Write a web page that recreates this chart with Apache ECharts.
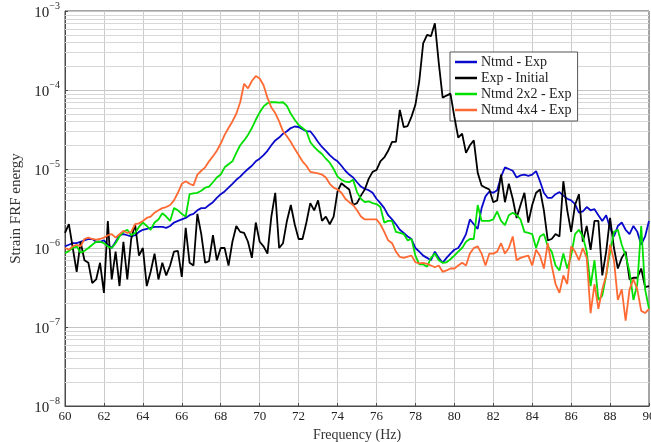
<!DOCTYPE html>
<html>
<head>
<meta charset="utf-8">
<script src="https://cdn.jsdelivr.net/npm/echarts/dist/echarts.min.js"></script>
<style>
  html, body { margin: 0; padding: 0; background: #ffffff; }
  #chart { width: 651px; height: 442px; }
</style>
</head>
<body>
<div id="chart"></div>
<script>
// Frequency samples (Hz)
const frequencies = [
  60.0, 60.2, 60.4, 60.6, 60.8, 61.0, 61.2, 61.4, 61.6, 61.8,
  62.0, 62.2, 62.4, 62.6, 62.8, 63.0, 63.2, 63.4, 63.6, 63.8,
  64.0, 64.2, 64.4, 64.6, 64.8, 65.0, 65.2, 65.4, 65.6, 65.8,
  66.0, 66.2, 66.4, 66.6, 66.8, 67.0, 67.2, 67.4, 67.6, 67.8,
  68.0, 68.2, 68.4, 68.6, 68.8, 69.0, 69.2, 69.4, 69.6, 69.8,
  70.0, 70.2, 70.4, 70.6, 70.8, 71.0, 71.2, 71.4, 71.6, 71.8,
  72.0, 72.2, 72.4, 72.6, 72.8, 73.0, 73.2, 73.4, 73.6, 73.8,
  74.0, 74.2, 74.4, 74.6, 74.8, 75.0, 75.2, 75.4, 75.6, 75.8,
  76.0, 76.2, 76.4, 76.6, 76.8, 77.0, 77.2, 77.4, 77.6, 77.8,
  78.0, 78.2, 78.4, 78.6, 78.8, 79.0, 79.2, 79.4, 79.6, 79.8,
  80.0, 80.2, 80.4, 80.6, 80.8, 81.0, 81.2, 81.4, 81.6, 81.8,
  82.0, 82.2, 82.4, 82.6, 82.8, 83.0, 83.2, 83.4, 83.6, 83.8,
  84.0, 84.2, 84.4, 84.6, 84.8, 85.0, 85.2, 85.4, 85.6, 85.8,
  86.0, 86.2, 86.4, 86.6, 86.8, 87.0, 87.2, 87.4, 87.6, 87.8,
  88.0, 88.2, 88.4, 88.6, 88.8, 89.0, 89.2, 89.4, 89.6, 89.8,
  90.0
];

// Strain FRF energy, Ntmd - Exp
const ntmdExp = [
  1.05e-6, 1.1e-6, 1.15e-6, 1.15e-6, 1.2e-6, 1.25e-6, 1.3e-6, 1.3e-6, 1.2e-6, 1.2e-6,
  1.25e-6, 1.1e-6, 1.0e-6, 1.2e-6, 1.45e-6, 1.5e-6, 1.45e-6, 1.4e-6, 1.45e-6, 1.6e-6,
  1.7e-6, 1.75e-6, 1.8e-6, 1.85e-6, 1.85e-6, 1.85e-6, 1.8e-6, 1.9e-6, 2.1e-6, 2.2e-6,
  2.3e-6, 2.4e-6, 2.6e-6, 2.7e-6, 3.0e-6, 3.2e-6, 3.2e-6, 3.5e-6, 3.8e-6, 4.3e-6,
  4.8e-6, 5.2e-6, 5.8e-6, 6.5e-6, 7.3e-6, 8.0e-6, 9.0e-6, 1.0e-5, 1.1e-5, 1.25e-5,
  1.35e-5, 1.5e-5, 1.7e-5, 2.0e-5, 2.3e-5, 2.5e-5, 2.8e-5, 3.0e-5, 3.3e-5, 3.45e-5,
  3.4e-5, 3.2e-5, 3.0e-5, 3.0e-5, 2.6e-5, 2.2e-5, 1.9e-5, 1.7e-5, 1.5e-5, 1.35e-5,
  1.25e-5, 1.1e-5, 9.5e-6, 8.5e-6, 7.8e-6, 6.8e-6, 6.0e-6, 5.6e-6, 5.4e-6, 5.0e-6,
  4.2e-6, 3.7e-6, 3.2e-6, 2.6e-6, 2.3e-6, 2.0e-6, 1.7e-6, 1.55e-6, 1.4e-6, 1.3e-6,
  1.0e-6, 0.9e-6, 0.8e-6, 0.75e-6, 0.7e-6, 0.9e-6, 0.75e-6, 0.65e-6, 0.75e-6, 0.85e-6,
  0.95e-6, 1.0e-6, 1.2e-6, 1.5e-6, 2.3e-6, 2.0e-6, 1.75e-6, 3.2e-6, 4.5e-6, 5.2e-6,
  5.0e-6, 5.4e-6, 8.0e-6, 1.05e-5, 1.0e-5, 9.5e-6, 7.8e-6, 8.3e-6, 8.5e-6, 8.2e-6,
  8.5e-6, 9.4e-6, 7.0e-6, 5.0e-6, 4.3e-6, 4.3e-6, 4.8e-6, 5.1e-6, 4.6e-6, 4.2e-6,
  4.0e-6, 3.6e-6, 2.8e-6, 2.9e-6, 3.3e-6, 3.0e-6, 3.1e-6, 2.6e-6, 2.2e-6, 2.6e-6,
  1.8e-6, 1.4e-6, 1.9e-6, 2.1e-6, 1.7e-6, 1.5e-6, 1.9e-6, 1.6e-6, 1.1e-6, 1.4e-6,
  2.2e-6
];

// Strain FRF energy, Exp - Initial
const expInitial = [
  1.55e-6, 2.0e-6, 1.0e-6, 0.5e-6, 1.2e-6, 0.7e-6, 0.65e-6, 0.36e-6, 0.4e-6, 0.65e-6,
  0.27e-6, 2.2e-6, 0.4e-6, 0.9e-6, 0.33e-6, 1.2e-6, 0.4e-6, 1.3e-6, 2.0e-6, 0.8e-6,
  1.0e-6, 0.33e-6, 0.5e-6, 0.85e-6, 0.4e-6, 0.65e-6, 0.45e-6, 0.6e-6, 0.9e-6, 0.92e-6,
  0.43e-6, 1.8e-6, 0.65e-6, 0.6e-6, 2.7e-6, 1.5e-6, 0.65e-6, 0.68e-6, 1.45e-6, 0.7e-6,
  1.0e-6, 1.0e-6, 0.6e-6, 1.2e-6, 1.9e-6, 1.6e-6, 1.55e-6, 1.2e-6, 0.75e-6, 2.1e-6,
  1.2e-6, 1.05e-6, 0.85e-6, 2.5e-6, 5.0e-6, 1.0e-6, 1.15e-6, 2.2e-6, 3.5e-6, 2.0e-6,
  1.3e-6, 1.3e-6, 2.1e-6, 3.7e-6, 3.0e-6, 4.0e-6, 2.2e-6, 2.5e-6, 2.0e-6, 2.5e-6,
  5.2e-6, 6.6e-6, 6.0e-6, 5.5e-6, 3.5e-6, 3.7e-6, 4.6e-6, 5.5e-6, 7.5e-6, 9.2e-6,
  9.7e-6, 1.25e-5, 1.4e-5, 1.7e-5, 2.2e-5, 2.2e-5, 5.6e-5, 3.4e-5, 3.5e-5, 4.6e-5,
  6.5e-5, 1.3e-4, 3.9e-4, 5.0e-4, 4.8e-4, 7.0e-4, 2.2e-4, 8.0e-5, 8.5e-5, 9.0e-5,
  4.6e-5, 2.5e-5, 2.8e-5, 1.6e-5, 2.0e-5, 2.3e-5, 9.0e-6, 6.2e-6, 5.8e-6, 5.5e-6,
  3.8e-6, 4.0e-6, 8.5e-6, 3.8e-6, 6.5e-6, 4.2e-6, 2.4e-6, 3.5e-6, 5.0e-6, 2.1e-6,
  3.5e-6, 5.0e-6, 5.5e-6, 3.0e-6, 1.25e-6, 1.3e-6, 1.5e-6, 1.4e-6, 7.0e-6, 3.0e-6,
  1.6e-6, 3.5e-6, 4.8e-6, 1.2e-6, 1.9e-6, 0.95e-6, 2.2e-6, 2.2e-6, 0.45e-6, 0.9e-6,
  2.4e-6, 1.0e-6, 0.55e-6, 0.75e-6, 0.9e-6, 0.4e-6, 0.42e-6, 0.42e-6, 0.55e-6, 0.32e-6,
  0.33e-6
];

// Strain FRF energy, Ntmd 2x2 - Exp
const ntmd2x2Exp = [
  0.86e-6, 0.92e-6, 1.0e-6, 1.05e-6, 0.87e-6, 0.92e-6, 1.0e-6, 1.1e-6, 1.2e-6, 1.2e-6,
  1.15e-6, 1.05e-6, 1.0e-6, 1.15e-6, 1.4e-6, 1.6e-6, 1.7e-6, 1.45e-6, 1.55e-6, 1.85e-6,
  2.1e-6, 1.9e-6, 1.7e-6, 2.1e-6, 2.3e-6, 2.75e-6, 2.5e-6, 2.2e-6, 3.2e-6, 3.0e-6,
  2.7e-6, 2.5e-6, 4.8e-6, 4.9e-6, 5.0e-6, 5.3e-6, 5.8e-6, 6.0e-6, 6.8e-6, 7.8e-6,
  8.5e-6, 1.05e-5, 1.15e-5, 1.25e-5, 1.6e-5, 2.0e-5, 2.3e-5, 2.7e-5, 3.3e-5, 4.2e-5,
  5.2e-5, 6.2e-5, 6.8e-5, 7.0e-5, 7.0e-5, 6.9e-5, 7.0e-5, 6.3e-5, 5.0e-5, 4.2e-5,
  3.6e-5, 3.3e-5, 3.0e-5, 2.2e-5, 1.9e-5, 1.7e-5, 1.55e-5, 1.35e-5, 1.2e-5, 1.0e-5,
  8.0e-6, 7.3e-6, 6.9e-6, 6.8e-6, 7.3e-6, 5.1e-6, 4.2e-6, 3.8e-6, 3.9e-6, 3.7e-6,
  3.6e-6, 3.3e-6, 2.1e-6, 2.2e-6, 2.2e-6, 1.6e-6, 1.55e-6, 1.5e-6, 1.25e-6, 1.3e-6,
  0.8e-6, 0.62e-6, 0.62e-6, 0.58e-6, 0.75e-6, 0.85e-6, 0.7e-6, 0.65e-6, 0.66e-6, 0.72e-6,
  0.8e-6, 0.9e-6, 1.0e-6, 1.2e-6, 1.3e-6, 1.3e-6, 3.5e-6, 2.2e-6, 2.2e-6, 2.2e-6,
  2.3e-6, 2.9e-6, 2.2e-6, 1.95e-6, 2.6e-6, 2.8e-6, 2.6e-6, 2.3e-6, 1.6e-6, 1.55e-6,
  1.5e-6, 1.0e-6, 1.4e-6, 1.5e-6, 1.05e-6, 0.9e-6, 0.6e-6, 0.52e-6, 0.85e-6, 0.55e-6,
  0.8e-6, 1.5e-6, 1.7e-6, 1.4e-6, 0.9e-6, 0.33e-6, 0.7e-6, 0.22e-6, 0.25e-6, 0.45e-6,
  0.9e-6, 1.6e-6, 1.7e-6, 1.1e-6, 0.8e-6, 0.5e-6, 0.22e-6, 0.35e-6, 1.9e-6, 0.3e-6,
  0.17e-6
];

// Strain FRF energy, Ntmd 4x4 - Exp
const ntmd4x4Exp = [
  1.0e-6, 0.95e-6, 1.05e-6, 1.1e-6, 1.05e-6, 1.3e-6, 1.35e-6, 1.3e-6, 1.28e-6, 1.3e-6,
  1.35e-6, 1.45e-6, 1.5e-6, 1.35e-6, 1.5e-6, 1.65e-6, 1.55e-6, 1.6e-6, 2.0e-6, 2.05e-6,
  2.2e-6, 2.4e-6, 2.5e-6, 2.8e-6, 3.0e-6, 3.2e-6, 3.3e-6, 3.5e-6, 4.0e-6, 5.0e-6,
  6.5e-6, 7.0e-6, 6.5e-6, 6.2e-6, 8.5e-6, 9.5e-6, 1.05e-5, 1.25e-5, 1.45e-5, 1.7e-5,
  2.1e-5, 2.7e-5, 3.3e-5, 4.0e-5, 5.0e-5, 7.0e-5, 1.2e-4, 1.05e-4, 1.3e-4, 1.5e-4,
  1.4e-4, 1.15e-4, 8.0e-5, 6.0e-5, 5.1e-5, 4.0e-5, 3.0e-5, 2.6e-5, 2.2e-5, 1.8e-5,
  1.5e-5, 1.25e-5, 1.1e-5, 9.2e-6, 9.0e-6, 8.8e-6, 8.5e-6, 7.8e-6, 6.5e-6, 5.8e-6,
  5.5e-6, 5.0e-6, 4.2e-6, 3.8e-6, 3.5e-6, 3.0e-6, 2.5e-6, 2.3e-6, 2.3e-6, 2.3e-6,
  2.3e-6, 2.0e-6, 1.6e-6, 1.25e-6, 1.15e-6, 0.9e-6, 0.77e-6, 0.75e-6, 0.78e-6, 0.8e-6,
  0.66e-6, 0.64e-6, 0.65e-6, 0.63e-6, 0.6e-6, 0.57e-6, 0.6e-6, 0.5e-6, 0.52e-6, 0.55e-6,
  0.55e-6, 0.6e-6, 0.65e-6, 0.6e-6, 0.85e-6, 1.0e-6, 1.05e-6, 0.85e-6, 0.6e-6, 0.85e-6,
  0.85e-6, 0.9e-6, 1.15e-6, 0.85e-6, 1.0e-6, 1.4e-6, 0.7e-6, 0.75e-6, 0.78e-6, 0.8e-6,
  0.6e-6, 0.95e-6, 0.8e-6, 0.55e-6, 1.15e-6, 0.6e-6, 0.35e-6, 0.27e-6, 0.45e-6, 0.35e-6,
  1.05e-6, 0.9e-6, 0.7e-6, 1.0e-6, 0.75e-6, 0.15e-6, 0.35e-6, 0.17e-6, 0.3e-6, 0.45e-6,
  1.1e-6, 0.7e-6, 0.22e-6, 0.3e-6, 0.12e-6, 0.3e-6, 0.4e-6, 0.3e-6, 0.16e-6, 0.15e-6,
  0.17e-6
];

const seriesNames = ['Ntmd - Exp', 'Exp - Initial', 'Ntmd 2x2 - Exp', 'Ntmd 4x4 - Exp'];
const seriesValues = [ntmdExp, expInitial, ntmd2x2Exp, ntmd4x4Exp];
const seriesColors = ['#0a0acc', '#000000', '#00e000', '#ff6a33'];

// Axis ranges
const freqMin = 60, freqMax = 90, freqTickStep = 2;
const energyMin = 1e-8, energyMax = 1e-3;

const serif = '"Liberation Serif", "DejaVu Serif", serif';

// Intermediate levels (2..9 x 10^k) for the fine horizontal grid of the log axis
const minorLevels = [];
for (let k = -8; k < -3; k++) {
  for (let m = 2; m <= 9; m++) minorLevels.push(m * Math.pow(10, k));
}

const chart = echarts.init(document.getElementById('chart'), null, { renderer: 'canvas' });

const lineSeries = seriesNames.map((name, i) => ({
  name: name,
  type: 'line',
  data: frequencies.map((f, j) => [f, seriesValues[i][j]]),
  symbol: 'none',
  showSymbol: false,
  smooth: false,
  z: 3 + i,
  clip: true,
  lineStyle: { color: seriesColors[i], width: 1.8 },
  itemStyle: { color: seriesColors[i] },
  emphasis: { disabled: true }
}));

// Fine horizontal grid lines, placed through the axis scales
const minorGridSeries = {
  type: 'custom',
  data: minorLevels.map(v => [v]),
  dimensions: ['level'],
  encode: { y: 0 },
  silent: true,
  z: 1,
  renderItem: function (params, api) {
    const level = api.value(0);
    const p0 = api.coord([freqMin, level]);
    const p1 = api.coord([freqMax, level]);
    const y = Math.round(p0[1]) + 0.5;
    return {
      type: 'line',
      shape: { x1: p0[0], y1: y, x2: p1[0], y2: y },
      style: { stroke: '#d8d8d8', lineWidth: 1 },
      silent: true
    };
  }
};

chart.setOption({
  animation: false,
  backgroundColor: '#ffffff',
  grid: {
    left: 65, right: 2, top: 11, bottom: 36,
    outerBoundsMode: 'none',
    containLabel: false,
    show: true,
    borderColor: '#4a4a4a',
    borderWidth: 1,
    backgroundColor: 'transparent'
  },
  legend: {
    data: seriesNames,
    orient: 'vertical',
    left: 450,
    top: 52,
    padding: [3, 6, 4, 5],
    itemGap: 2,
    itemWidth: 22,
    itemHeight: 2.5,
    icon: 'rect',
    backgroundColor: '#ffffff',
    borderColor: '#555555',
    borderWidth: 1,
    borderRadius: 0,
    selectedMode: false,
    textStyle: { fontFamily: serif, fontSize: 14, color: '#222222', padding: [0, 0, 0, -1] }
  },
  xAxis: {
    type: 'value',
    min: freqMin,
    max: freqMax,
    interval: freqTickStep,
    name: 'Frequency (Hz)',
    nameLocation: 'middle',
    nameGap: 19,
    nameTextStyle: { fontFamily: serif, fontSize: 14, color: '#333333' },
    axisLine: { show: true, onZero: false, lineStyle: { color: '#4a4a4a', width: 1 } },
    axisTick: { show: true, inside: true, length: 3, lineStyle: { color: '#4a4a4a' } },
    axisLabel: { fontFamily: serif, fontSize: 13, color: '#222222', margin: 4 },
    splitLine: { show: true, showMinLine: false, showMaxLine: false, lineStyle: { color: '#cccccc', width: 1 } }
  },
  yAxis: {
    type: 'log',
    logBase: 10,
    min: energyMin,
    max: energyMax,
    name: 'Strain FRF energy',
    nameLocation: 'middle',
    nameGap: 41,
    nameTextStyle: { fontFamily: serif, fontSize: 15, color: '#333333' },
    axisLine: { show: true, lineStyle: { color: '#4a4a4a', width: 1 } },
    axisTick: { show: true, inside: true, length: 3, lineStyle: { color: '#4a4a4a' } },
    axisLabel: {
      margin: 5,
      formatter: function (v) {
        const e = Math.round(Math.log10(v));
        return '{b|10}{e|' + (e < 0 ? '\u2212' + (-e) : e) + '}';
      },
      rich: {
        b: { fontFamily: serif, fontSize: 15, color: '#222222', verticalAlign: 'bottom', lineHeight: 20 },
        e: { fontFamily: serif, fontSize: 10, color: '#222222', verticalAlign: 'top', lineHeight: 20 }
      }
    },
    splitLine: { show: true, showMinLine: false, showMaxLine: false, lineStyle: { color: '#c4c4c4', width: 1 } }
  },
  series: [minorGridSeries].concat(lineSeries)
});
</script>
</body>
</html>
